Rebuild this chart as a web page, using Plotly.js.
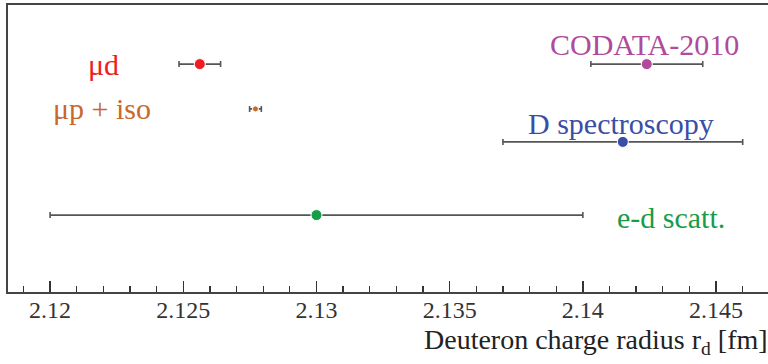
<!DOCTYPE html>
<html>
<head>
<meta charset="utf-8">
<script src="https://cdn.plot.ly/plotly-3.0.1.min.js"></script>
<style>
html,body{margin:0;padding:0;background:#fff;}
#chart{width:768px;height:364px;}
</style>
</head>
<body>
<div id="chart"></div>
<script>
// Data
const labels = ["μd", "μp + iso", "CODATA-2010", "D spectroscopy", "e-d scatt."];
const radius = [2.12562, 2.12771, 2.1424, 2.1415, 2.130];
const errors = [0.00078, 0.00022, 0.0021, 0.0045, 0.010];
const rows   = [0.794, 0.638, 0.794, 0.523, 0.268];
const tickValues = [2.12, 2.125, 2.13, 2.135, 2.14, 2.145];
const tickLabels = ["2.12", "2.125", "2.13", "2.135", "2.14", "2.145"];

// Styles
const colors = ["#ee1d23", "#c9682b", "#b04a9c", "#3a4ea6", "#179c48"];
const markerSizes = [11, 6, 11, 11, 11];
const labelX = [0.125, 0.124, 0.838, 0.807, 0.872];   // paper fractions
const labelDy = [0, 0, 0.07, 0.065, -0.01];           // offset from row

const serif = "Liberation Serif, Times New Roman, serif";

const trace = {
  type: "scatter",
  mode: "markers",
  x: radius,
  y: rows,
  marker: {color: colors, size: markerSizes, opacity: 1},
  error_x: {type: "data", array: errors, color: "#555", thickness: 1.6, width: 3},
  hoverinfo: "skip",
  showlegend: false
};

const annotations = labels.map((t, i) => ({
  text: t,
  xref: "paper", yref: "y",
  x: labelX[i], y: rows[i] + labelDy[i],
  xanchor: "center", yanchor: "middle",
  showarrow: false,
  font: {family: serif, size: 30, color: colors[i]}
}));
annotations.push({
  text: "Deuteron charge radius r<sub>d</sub> [fm]",
  xref: "paper", yref: "paper",
  x: 1.002, y: -0.105,
  xanchor: "right", yanchor: "top",
  showarrow: false,
  font: {family: serif, size: 28, color: "#222"}
});

const layout = {
  width: 768, height: 364,
  margin: {l: 8, r: 0, t: 5, b: 72},
  paper_bgcolor: "#fff", plot_bgcolor: "#fff",
  xaxis: {
    range: [2.11842, 2.14695],
    tickvals: tickValues,
    ticktext: tickLabels,
    ticks: "inside", ticklen: 11, tickwidth: 1.3, tickcolor: "#333",
    ticklabelstandoff: -4,
    minor: {dtick: 0.001, tick0: 2.12, ticks: "inside", ticklen: 6, tickwidth: 1.3, tickcolor: "#333", showgrid: false},
    showgrid: false, zeroline: false,
    showline: true, linecolor: "#444", linewidth: 1.6, mirror: true,
    tickfont: {family: serif, size: 24, color: "#333"}
  },
  yaxis: {
    range: [0, 1],
    showticklabels: false, ticks: "", showgrid: false, zeroline: false,
    showline: true, linecolor: "#444", linewidth: 1.6, mirror: false
  },
  annotations: annotations,
  font: {family: serif}
};

Plotly.newPlot("chart", [trace], layout, {staticPlot: true, displayModeBar: false});
</script>
</body>
</html>
